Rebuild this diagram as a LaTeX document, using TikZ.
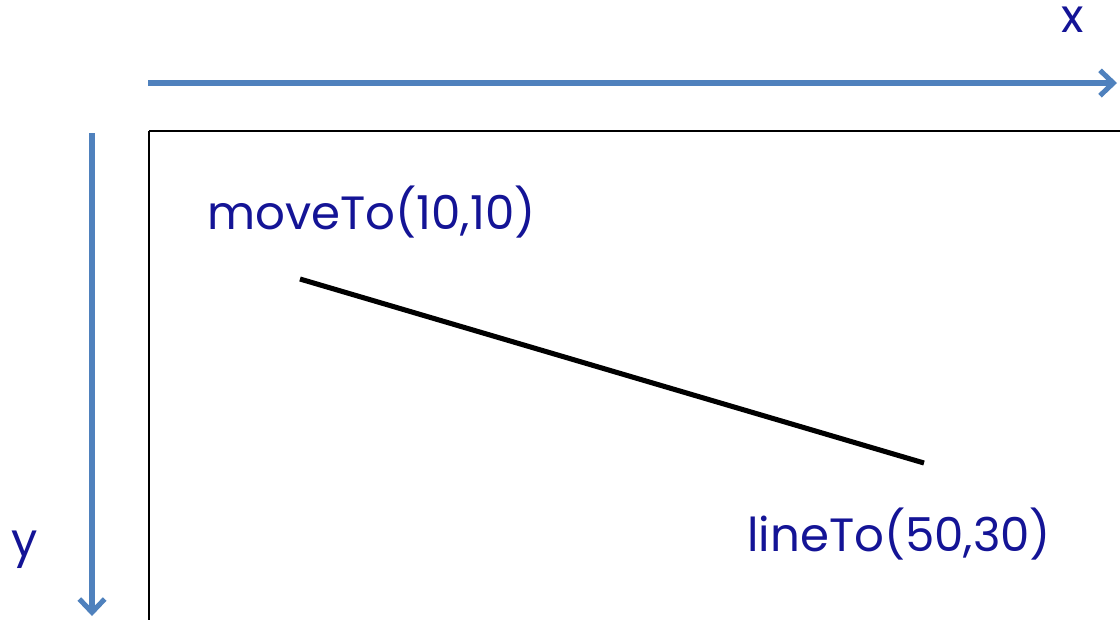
\documentclass[tikz,border=0pt]{standalone}
\usepackage{fontspec}
\setmainfont{Poppins}
\usetikzlibrary{arrows.meta}
\definecolor{axisblue}{RGB}{79,129,189}
\definecolor{labelblue}{RGB}{20,20,150}

\begin{document}
\begin{tikzpicture}[x=0.75pt,y=-0.75pt,
    axis/.style={draw=axisblue, line width=3.8pt, -{Straight Barb[length=10pt,width=19pt,line width=3.8pt]}},
    label/.style={text=labelblue, font=\fontsize{35}{40}\selectfont, inner sep=0pt}]
  \useasboundingbox (0,0) rectangle (1120,619);
  \clip (0,0) rectangle (1120,619);
  % canvas frame
  \draw[line width=1.6pt] (149,131) -- (149,640) (149,131) -- (1140,131);
  % axes
  \coordinate (x0) at (148,83);
  \coordinate (x1) at (1117,83);
  \coordinate (y0) at (92,133);
  \coordinate (y1) at (92,616);
  \draw[axis] (x0) -- (x1);
  \draw[axis] (y0) -- (y1);
  \node[label] (X) at (1073,20) {x};
  \node[label] (Y) at (25,550) {y};
  % path
  \node[label, anchor=west] (move) at (207,212) {moveTo(10,10)};
  \node[label, anchor=west] (line) at (747,534) {lineTo(50,30)};
  \coordinate (p0) at (300,279);
  \coordinate (p1) at (924,463);
  \draw[line width=3.8pt] (p0) -- (p1);
\end{tikzpicture}
\end{document}
